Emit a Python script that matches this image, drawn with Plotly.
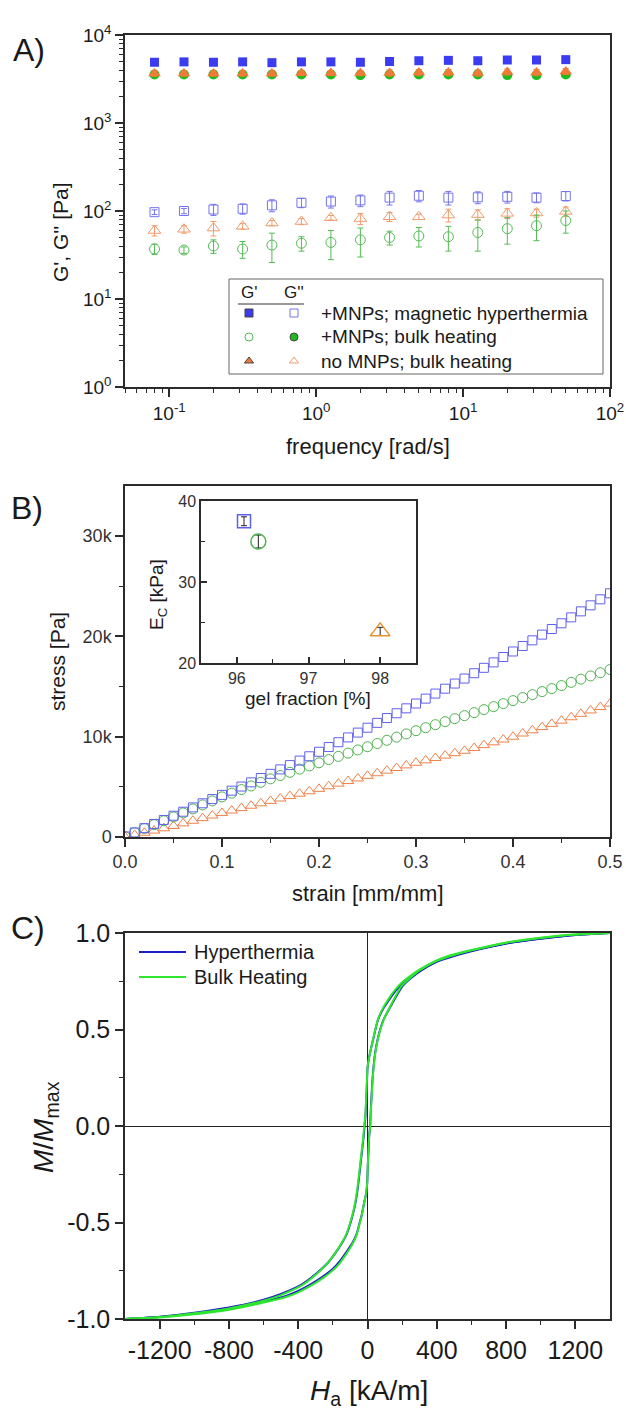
import math
import plotly.graph_objects as go

FIG_W, FIG_H = 626, 1414


def px(x):
    return x / FIG_W


def py(y):
    return 1 - y / FIG_H


FONT = "Liberation Sans, Arial, sans-serif"
AXC = "#2b2b2b"
TXT = "#1a1a1a"

# ---------------- Panel A : frequency sweep ----------------
freq = [0.0794, 0.126, 0.2, 0.316, 0.5, 0.794, 1.26, 2.0, 3.16, 5.0, 7.94, 12.6, 20.0, 31.6, 50.0]

gp_hyper = [4900, 4950, 4900, 4950, 4850, 4950, 4950, 4900, 5000, 5100, 5150, 5100, 5200, 5200, 5250]
gp_hyper_err = [300, 300, 300, 300, 300, 300, 300, 300, 350, 350, 350, 350, 350, 350, 350]
gp_bulk = [3550, 3550, 3550, 3550, 3550, 3550, 3550, 3500, 3550, 3550, 3550, 3550, 3500, 3500, 3550]
gp_bulk_err = [150, 150, 150, 150, 150, 150, 150, 150, 150, 150, 150, 150, 150, 150, 150]
gp_none = [3650, 3650, 3650, 3650, 3650, 3700, 3700, 3700, 3700, 3750, 3750, 3700, 3800, 3750, 3850]
gp_none_err = [250, 250, 250, 250, 250, 250, 250, 250, 300, 300, 300, 300, 300, 300, 300]

gpp_hyper = [97, 100, 104, 106, 116, 124, 128, 132, 142, 149, 142, 143, 145, 142, 148]
gpp_hyper_err = [6, 7, 15, 14, 18, 15, 20, 20, 25, 22, 25, 22, 22, 18, 18]
gpp_bulk = [37, 36, 40, 37, 41, 43, 44, 47, 50, 52, 51, 57, 63, 68, 78]
gpp_bulk_err = [5, 3, 7, 8, 15, 8, 16, 17, 9, 13, 16, 22, 21, 22, 22]
gpp_none = [60, 62, 64, 67, 73, 76, 84, 82, 86, 86, 90, 91, 94, 95, 99]
gpp_none_err = [8, 6, 12, 5, 5, 6, 5, 12, 10, 6, 15, 12, 12, 10, 12]

legendA_labels = ["+MNPs; magnetic hyperthermia", "+MNPs; bulk heating", "no MNPs; bulk heating"]

# ---------------- Panel B : stress-strain ----------------
strain = [0.00, 0.01, 0.02, 0.03, 0.04, 0.05, 0.06, 0.07, 0.08, 0.09,
          0.10, 0.11, 0.12, 0.13, 0.14, 0.15, 0.16, 0.17, 0.18, 0.19,
          0.20, 0.21, 0.22, 0.23, 0.24, 0.25, 0.26, 0.27, 0.28, 0.29,
          0.30, 0.31, 0.32, 0.33, 0.34, 0.35, 0.36, 0.37, 0.38, 0.39,
          0.40, 0.41, 0.42, 0.43, 0.44, 0.45, 0.46, 0.47, 0.48, 0.49, 0.50]
stress_hyper_kpa = [0.05, 0.45, 0.88, 1.30, 1.70, 2.12, 2.52, 2.95, 3.36, 3.78,
                    4.20, 4.62, 5.03, 5.45, 5.88, 6.30, 6.74, 7.17, 7.62, 8.05,
                    8.50, 8.97, 9.45, 9.93, 10.41, 10.90, 11.38, 11.86, 12.34, 12.83,
                    13.31, 13.80, 14.30, 14.79, 15.30, 15.80, 16.33, 16.87, 17.41, 17.95,
                    18.50, 19.05, 19.61, 20.18, 20.74, 21.31, 21.90, 22.50, 23.10, 23.70, 24.30]
stress_bulk_kpa = [0.05, 0.44, 0.84, 1.23, 1.62, 2.00, 2.40, 2.80, 3.20, 3.60,
                   4.00, 4.37, 4.73, 5.09, 5.45, 5.80, 6.13, 6.45, 6.77, 7.09,
                   7.40, 7.72, 8.04, 8.36, 8.68, 9.00, 9.32, 9.64, 9.96, 10.28,
                   10.60, 10.90, 11.20, 11.50, 11.80, 12.10, 12.40, 12.70, 13.00, 13.30,
                   13.60, 13.90, 14.20, 14.50, 14.80, 15.10, 15.42, 15.74, 16.06, 16.38, 16.70]
stress_none_kpa = [0.00, 0.20, 0.42, 0.64, 0.87, 1.10, 1.36, 1.62, 1.88, 2.14,
                   2.40, 2.64, 2.88, 3.12, 3.36, 3.60, 3.84, 4.08, 4.32, 4.56,
                   4.80, 5.06, 5.32, 5.58, 5.84, 6.10, 6.36, 6.62, 6.88, 7.14,
                   7.40, 7.64, 7.88, 8.12, 8.36, 8.60, 8.88, 9.16, 9.44, 9.72,
                   10.00, 10.32, 10.64, 10.96, 11.28, 11.60, 11.94, 12.28, 12.62, 12.96, 13.30]

# inset: compressive modulus vs gel fraction
gel_fraction = [96.1, 96.3, 98.0]
ec_kpa = [37.5, 35.0, 23.9]
ec_err = [0.55, 0.8, 0.5]

# ---------------- Panel C : hysteresis ----------------
hyp_desc_H = [1400, 1200, 1000, 800, 600, 470, 400, 300, 250, 200, 160, 120, 90, 63, 45, 35, 20, 8, 0,
              -4, -8, -12, -17, -24, -33, -44, -56, -72, -94, -120, -150, -187, -230, -290, -379, -500,
              -600, -800, -1000, -1200, -1400]
hyp_desc_M = [1.0, 0.99, 0.972, 0.946, 0.908, 0.878, 0.853, 0.803, 0.772, 0.737, 0.698, 0.648, 0.606, 0.556,
              0.498, 0.458, 0.40, 0.35, 0.30, 0.20, 0.12, 0.05, 0.0, -0.07, -0.14, -0.23, -0.32, -0.41,
              -0.49, -0.56, -0.61, -0.66, -0.71, -0.76, -0.82, -0.87, -0.90, -0.94, -0.967, -0.988, -1.0]
hyp_asc_H = [-1400, -1200, -1000, -800, -600, -470, -400, -300, -250, -200, -160, -120, -90, -63, -45, -33,
             -20, -8, -2, 2, 6, 10, 15, 20, 26, 34, 46, 64, 92, 140, 198, 250, 300, 400, 500, 600, 800,
             1000, 1200, 1400]
hyp_asc_M = [-1.0, -0.99, -0.972, -0.948, -0.91, -0.88, -0.855, -0.805, -0.775, -0.74, -0.70, -0.65, -0.61,
             -0.56, -0.50, -0.46, -0.40, -0.35, -0.30, -0.20, -0.12, -0.05, 0.0, 0.10, 0.20, 0.30, 0.39,
             0.47, 0.55, 0.63, 0.72, 0.765, 0.80, 0.85, 0.88, 0.905, 0.945, 0.97, 0.99, 1.0]

bulk_desc_H = [1400, 1200, 1000, 800, 600, 470, 400, 300, 250, 200, 160, 120, 90, 63, 45, 35, 20, 8, 0,
               -5, -9, -13, -19, -26, -35, -46, -58, -74, -96, -122, -152, -188, -232, -292, -380, -500,
               -600, -800, -1000, -1200, -1400]
bulk_desc_M = [1.0, 0.992, 0.975, 0.95, 0.912, 0.882, 0.858, 0.81, 0.78, 0.745, 0.706, 0.656, 0.612, 0.56,
               0.50, 0.46, 0.40, 0.35, 0.30, 0.20, 0.12, 0.05, 0.0, -0.07, -0.14, -0.23, -0.32, -0.41,
               -0.49, -0.56, -0.61, -0.66, -0.712, -0.765, -0.826, -0.876, -0.905, -0.945, -0.97, -0.99, -1.0]
bulk_asc_H = [-1400, -1200, -1000, -800, -600, -470, -400, -300, -250, -200, -160, -120, -90, -63, -45, -33,
              -20, -8, -2, 2, 6, 10, 16, 21, 27, 35, 47, 65, 93, 140, 196, 250, 300, 400, 500, 600, 800,
              1000, 1200, 1400]
bulk_asc_M = [-1.0, -0.992, -0.976, -0.952, -0.915, -0.886, -0.862, -0.813, -0.783, -0.748, -0.71, -0.66,
              -0.617, -0.565, -0.505, -0.463, -0.40, -0.35, -0.30, -0.20, -0.12, -0.05, 0.0, 0.10, 0.20,
              0.30, 0.39, 0.47, 0.55, 0.635, 0.725, 0.77, 0.806, 0.856, 0.886, 0.91, 0.95, 0.974, 0.992, 1.0]

legendC_labels = ["Hyperthermia", "Bulk Heating"]

# ---------------- colours ----------------
BLUE_F = "#3b3bf2"
BLUE_O = "#7474ee"
GREEN_F = "#1cbc1c"
GREEN_O = "#55bb55"
ORANGE_F = "#f07a36"
ORANGE_O = "#f19c6c"
BLUE_B = "#6060ee"
GREEN_B = "#4fb34f"
ORANGE_B = "#f08048"
INSET_ORANGE = "#e8902c"
LINE_BLUE = "#1f1fc8"
LINE_GREEN = "#2ee62e"

fig = go.Figure()


def err(arr, color):
    return dict(type="data", array=arr, visible=True, color=color, thickness=1, width=3)


# Panel A traces: G'' (open) first
fig.add_trace(go.Scatter(x=freq, y=gpp_hyper, mode="markers", error_y=err(gpp_hyper_err, BLUE_O),
                         marker=dict(symbol="square-open", size=9, color=BLUE_O, line=dict(width=1)),
                         xaxis="x", yaxis="y", showlegend=False))
fig.add_trace(go.Scatter(x=freq, y=gpp_none, mode="markers", error_y=err(gpp_none_err, ORANGE_O),
                         marker=dict(symbol="triangle-up-open", size=11, color=ORANGE_O, line=dict(width=1)),
                         xaxis="x", yaxis="y", showlegend=False))
fig.add_trace(go.Scatter(x=freq, y=gpp_bulk, mode="markers", error_y=err(gpp_bulk_err, GREEN_O),
                         marker=dict(symbol="circle-open", size=10, color=GREEN_O, line=dict(width=1)),
                         xaxis="x", yaxis="y", showlegend=False))
# G' (filled)
fig.add_trace(go.Scatter(x=freq, y=gp_bulk, mode="markers", error_y=err(gp_bulk_err, GREEN_F),
                         marker=dict(symbol="circle", size=10, color=GREEN_F),
                         xaxis="x", yaxis="y", showlegend=False))
fig.add_trace(go.Scatter(x=freq, y=gp_none, mode="markers", error_y=err(gp_none_err, ORANGE_F),
                         marker=dict(symbol="triangle-up", size=11, color=ORANGE_F),
                         xaxis="x", yaxis="y", showlegend=False))
fig.add_trace(go.Scatter(x=freq, y=gp_hyper, mode="markers", error_y=err(gp_hyper_err, "#9a9af5"),
                         marker=dict(symbol="square", size=9, color=BLUE_F),
                         xaxis="x", yaxis="y", showlegend=False))

# Panel B traces
fig.add_trace(go.Scatter(x=strain, y=[v * 1000 for v in stress_none_kpa], mode="markers",
                         marker=dict(symbol="triangle-up-open", size=10, color=ORANGE_B, line=dict(width=1)),
                         xaxis="x2", yaxis="y2", showlegend=False))
fig.add_trace(go.Scatter(x=strain, y=[v * 1000 for v in stress_bulk_kpa], mode="markers",
                         marker=dict(symbol="circle-open", size=10, color=GREEN_B, line=dict(width=1)),
                         xaxis="x2", yaxis="y2", showlegend=False))
fig.add_trace(go.Scatter(x=strain, y=[v * 1000 for v in stress_hyper_kpa], mode="markers",
                         marker=dict(symbol="square-open", size=9, color=BLUE_B, line=dict(width=1)),
                         xaxis="x2", yaxis="y2", showlegend=False))

# Inset
inset_sym = ["square-open", "circle-open", "triangle-up-open"]
inset_col = [BLUE_B, GREEN_B, INSET_ORANGE]
inset_size = [13, 15, 17]
for i in range(3):
    fig.add_trace(go.Scatter(x=[gel_fraction[i]], y=[ec_kpa[i]], mode="markers",
                             error_y=dict(type="data", array=[ec_err[i]], color="#222", thickness=1, width=3),
                             marker=dict(symbol=inset_sym[i], size=inset_size[i], color=inset_col[i],
                                         line=dict(width=1.5)),
                             xaxis="x3", yaxis="y3", showlegend=False))

# Panel C traces
for Hs, Ms, col in [(hyp_desc_H, hyp_desc_M, LINE_BLUE), (hyp_asc_H, hyp_asc_M, LINE_BLUE),
                    (bulk_desc_H, bulk_desc_M, LINE_GREEN), (bulk_asc_H, bulk_asc_M, LINE_GREEN)]:
    fig.add_trace(go.Scatter(x=Hs, y=Ms, mode="lines", line=dict(color=col, width=2, shape="spline",
                                                                 smoothing=0.5),
                             xaxis="x4", yaxis="y4", showlegend=False))

# Legend A symbols (pixel-space overlay axes)
legA_rows = [313, 337, 361]
legA_g1 = [("square", BLUE_F), ("circle-open", GREEN_O), ("triangle-up", ORANGE_F)]
legA_g2 = [("square-open", BLUE_O), ("circle", GREEN_F), ("triangle-up-open", ORANGE_O)]
for r, (s1, c1), (s2, c2) in zip(legA_rows, legA_g1, legA_g2):
    fig.add_trace(go.Scatter(x=[249], y=[r], mode="markers",
                             marker=dict(symbol=s1, size=8, color=c1, line=dict(width=1)),
                             xaxis="x5", yaxis="y5", showlegend=False))
    fig.add_trace(go.Scatter(x=[294], y=[r], mode="markers",
                             marker=dict(symbol=s2, size=8, color=c2, line=dict(width=1)),
                             xaxis="x5", yaxis="y5", showlegend=False))

# Legend C lines
for r, col in [(952, LINE_BLUE), (977, LINE_GREEN)]:
    fig.add_trace(go.Scatter(x=[139, 186], y=[r, r], mode="lines", line=dict(color=col, width=2),
                             xaxis="x5", yaxis="y5", showlegend=False))

common = dict(showline=True, linewidth=1.5, linecolor=AXC, mirror=True, ticks="outside", ticklen=8,
              tickwidth=1.5, tickcolor=AXC, showgrid=False, zeroline=False, automargin=False)


def minor(vals, direction="outside", length=4):
    return dict(tickmode="array", tickvals=vals, ticks=direction, ticklen=length, tickwidth=1,
                tickcolor=AXC, showgrid=False)


logx_minor = [m * 10 ** e for e in (-2, -1, 0, 1) for m in range(2, 10)]
logy_minor = [m * 10 ** e for e in (0, 1, 2, 3) for m in range(2, 10)]

XDOM = [px(125), px(610)]

layout = dict(
    width=FIG_W, height=FIG_H, margin=dict(l=0, r=0, t=0, b=0, pad=0), autosize=False,
    paper_bgcolor="white", plot_bgcolor="rgba(0,0,0,0)",
    font=dict(family=FONT, color=TXT),
    xaxis=dict(domain=XDOM, anchor="y", type="log", range=[math.log10(0.05), 2],
               tickmode="array", tickvals=[0.1, 1, 10, 100],
               ticktext=["10<sup>-1</sup>", "10<sup>0</sup>", "10<sup>1</sup>", "10<sup>2</sup>"],
               tickfont=dict(size=19, color=TXT), minor=minor(logx_minor), **common),
    yaxis=dict(domain=[py(387), py(35)], anchor="x", type="log", range=[0, 4],
               tickmode="array", tickvals=[1, 10, 100, 1000, 10000],
               ticktext=["10<sup>0</sup>", "10<sup>1</sup>", "10<sup>2</sup>", "10<sup>3</sup>", "10<sup>4</sup>"],
               tickfont=dict(size=19, color=TXT), minor=minor(logy_minor), **common),
    xaxis2=dict(domain=XDOM, anchor="y2", range=[0, 0.5], tickmode="array",
                tickvals=[0, 0.1, 0.2, 0.3, 0.4, 0.5], ticktext=["0.0", "0.1", "0.2", "0.3", "0.4", "0.5"],
                tickfont=dict(size=18, color="#333"), minor=minor([0.05, 0.15, 0.25, 0.35, 0.45]), **common),
    yaxis2=dict(domain=[py(837), py(486)], anchor="x2", range=[0, 35000], tickmode="array",
                tickvals=[0, 10000, 20000, 30000], ticktext=["0", "10k", "20k", "30k"],
                tickfont=dict(size=18, color="#333"), minor=minor([5000, 15000, 25000]), **common),
    xaxis3=dict(domain=[px(201), px(416)], anchor="y3", range=[95.5, 98.5], tickmode="array",
                tickvals=[96, 97, 98], ticktext=["96", "97", "98"], tickfont=dict(size=16, color="#333"),
                minor=minor([96.5, 97.5], "inside", 4),
                **{**common, "ticks": "inside", "ticklen": 6}),
    yaxis3=dict(domain=[py(663), py(501)], anchor="x3", range=[20, 40], tickmode="array",
                tickvals=[20, 30, 40], ticktext=["20", "30", "40"], tickfont=dict(size=16, color="#333"),
                minor=minor([25, 35], "inside", 4),
                **{**common, "ticks": "inside", "ticklen": 6}),
    xaxis4=dict(domain=XDOM, anchor="y4", range=[-1400, 1400], tickmode="array",
                tickvals=[-1200, -800, -400, 0, 400, 800, 1200],
                ticktext=["-1200", "-800", "-400", "0", "400", "800", "1200"],
                tickfont=dict(size=25, color=TXT), minor=minor([-1000, -600, -200, 200, 600, 1000]),
                **{**common, "zeroline": True, "zerolinecolor": "#222", "zerolinewidth": 1.2}),
    yaxis4=dict(domain=[py(1319), py(933)], anchor="x4", range=[-1, 1], tickmode="array",
                tickvals=[-1, -0.5, 0, 0.5, 1], ticktext=["-1.0", "-0.5", "0.0", "0.5", "1.0"],
                tickfont=dict(size=25, color=TXT), minor=minor([-0.75, -0.25, 0.25, 0.75]),
                **{**common, "zeroline": True, "zerolinecolor": "#222", "zerolinewidth": 1.2}),
    xaxis5=dict(domain=[0, 1], anchor="y5", range=[0, FIG_W], visible=False, fixedrange=True,
                automargin=False),
    yaxis5=dict(domain=[0, 1], anchor="x5", range=[FIG_H, 0], visible=False, fixedrange=True,
                automargin=False),
)
fig.update_layout(**layout)

ann = []


def text(x, y, s, size, angle=0, xanchor="center", color=TXT):
    ann.append(dict(x=px(x), y=py(y), xref="paper", yref="paper", text=s, showarrow=False,
                    font=dict(size=size, color=color, family=FONT), textangle=angle,
                    xanchor=xanchor, yanchor="middle"))


# panel letters
text(29, 50, "A)", 32)
text(27, 508, "B)", 32)
text(28, 928, "C)", 32)

# axis titles
text(368, 447, "frequency [rad/s]", 22)
text(60, 232, "G', G'' [Pa]", 21, -90)
text(368, 893, "strain [mm/mm]", 22)
text(57, 662, "stress [Pa]", 21, -90)
text(308, 698, "gel fraction [%]", 19)
text(158, 595, "E<sub>C</sub> [kPa]", 19, -90)
text(369, 1392, "<i>H</i><sub>a</sub> [kA/m]", 28)
text(45, 1127, "<i>M</i>/<i>M</i><sub>max</sub>", 28, -90)

# legend A
text(249, 292, "G'", 17)
text(294, 292, "G''", 17)
for r, lab in zip(legA_rows, legendA_labels):
    text(319, r, lab, 19, xanchor="left")

# legend C
for r, lab in zip([952, 977], legendC_labels):
    text(192, r, lab, 20, xanchor="left")

fig.update_layout(annotations=ann)

shapes = [
    dict(type="rect", xref="paper", yref="paper", x0=px(229), x1=px(603), y0=py(374), y1=py(279),
         line=dict(color="#666", width=1), layer="above"),
    dict(type="line", xref="paper", yref="paper", x0=px(238), x1=px(304), y0=py(304), y1=py(304),
         line=dict(color="#333", width=1), layer="above"),
]
fig.update_layout(shapes=shapes)

fig.write_html("out.html", config={"displayModeBar": False},
               post_script="document.body.style.margin='0';document.body.style.overflow='hidden';")
